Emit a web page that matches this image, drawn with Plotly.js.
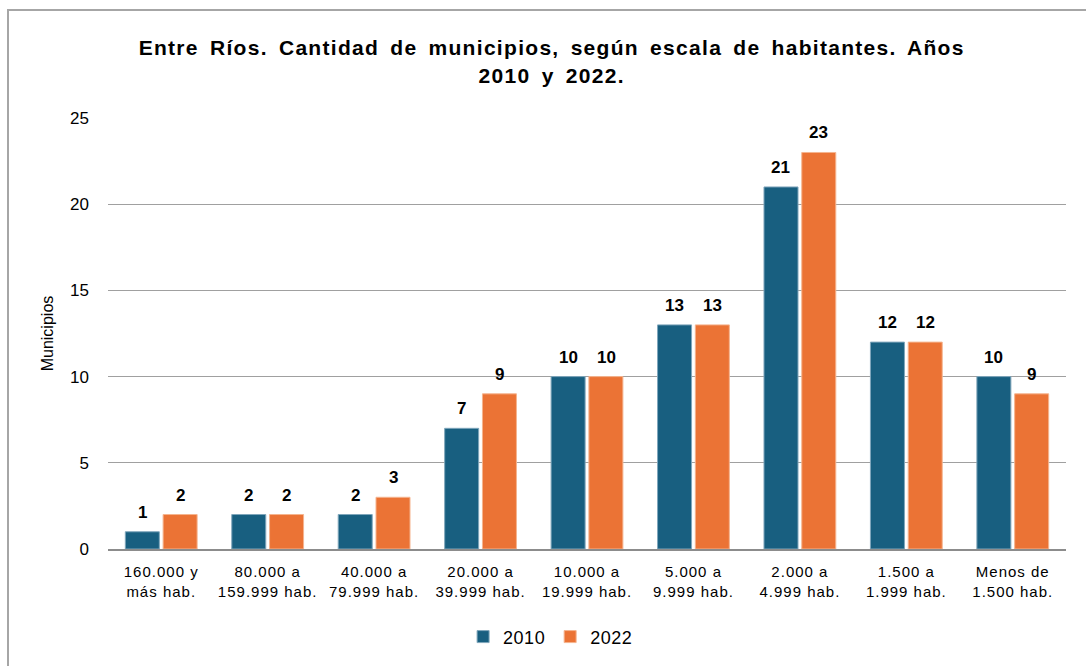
<!DOCTYPE html>
<html>
<head>
<meta charset="utf-8">
<script src="https://cdn.plot.ly/plotly-3.0.1.min.js"></script>
<style>
  html, body { margin: 0; padding: 0; background: #fff; overflow: hidden; }
  #chart { position: absolute; left: 0; top: 0; width: 1086px; height: 666px; }
  #frame { position: absolute; left: 7px; top: 9px; width: 1200px; height: 800px;
           border-left: 2px solid #a6a6a6; border-top: 2px solid #a6a6a6; pointer-events: none; }
  .gtitle { letter-spacing: 1.3px; word-spacing: 4px; }
  .xtick text { letter-spacing: 1px; }
  .legendtext { letter-spacing: 0.5px; }
</style>
</head>
<body>
<div id="chart"></div>
<div id="frame"></div>
<script>
const categories = [
  "160.000 y<br>más hab.",
  "80.000 a<br>159.999 hab.",
  "40.000 a<br>79.999 hab.",
  "20.000 a<br>39.999 hab.",
  "10.000 a<br>19.999 hab.",
  "5.000 a<br>9.999 hab.",
  "2.000 a<br>4.999 hab.",
  "1.500 a<br>1.999 hab.",
  "Menos de<br>1.500 hab."
];
const values2010 = [1, 2, 2, 7, 10, 13, 21, 12, 10];
const values2022 = [2, 2, 3, 9, 10, 13, 23, 12, 9];
const seriesNames = ["2010", "2022"];
const yTicks = [0, 5, 10, 15, 20, 25];

const blue = "#185f80";
const orange = "#eb7335";

const traces = [
  { type: "bar", name: seriesNames[0], x: categories, y: values2010,
    marker: { color: blue, line: { color: "#7fa6bb", width: 1 } }, hoverinfo: "skip" },
  { type: "bar", name: seriesNames[1], x: categories, y: values2022,
    marker: { color: orange, line: { color: "#f5b48f", width: 1 } }, hoverinfo: "skip" }
];

const annotations = [];
[values2010, values2022].forEach((vals, s) => {
  vals.forEach((v, i) => {
    annotations.push({
      x: categories[i], y: v, xref: "x", yref: "y",
      text: "<b>" + v + "</b>", showarrow: false,
      xshift: s === 0 ? -19 : 19, yanchor: "bottom", yshift: 8,
      font: { family: "Liberation Sans, Arial, sans-serif", size: 17, color: "#000" }
    });
  });
});

const layout = {
  width: 1086, height: 666,
  margin: { l: 108, r: 20, t: 118, b: 117, autoexpand: false },
  paper_bgcolor: "#fff", plot_bgcolor: "#fff",
  font: { family: "Liberation Sans, Arial, sans-serif", color: "#000" },
  title: {
    text: "<b>Entre Ríos. Cantidad de municipios, según escala de habitantes. Años<br>2010 y 2022.</b>",
    font: { family: "Liberation Sans, Arial, sans-serif", size: 21, color: "#000" },
    x: 0.508, xanchor: "center", y: 0.917, yanchor: "top"
  },
  barmode: "group",
  bargap: 0.29,
  bargroupgap: 0.1,
  showlegend: true,
  legend: {
    orientation: "h", x: 0.462, xanchor: "center", y: -0.161, yanchor: "top",
    font: { size: 18, color: "#000" }, itemwidth: 30, traceorder: "normal"
  },
  xaxis: {
    type: "category",
    tickfont: { size: 15, color: "#000" },
    showgrid: false, zeroline: false,
    showline: true, linecolor: "#8c8c8c", linewidth: 2,
    ticks: "", ticklabelstandoff: 8
  },
  yaxis: {
    range: [0, 25], tickvals: yTicks, ticktext: yTicks.map(String),
    tickfont: { size: 17, color: "#000" },
    showgrid: true, gridcolor: "#a0a0a0", gridwidth: 1,
    zeroline: false, showline: false, ticks: "",
    ticklabelstandoff: 18,
    title: { text: "Municipios", font: { size: 16, color: "#000" }, standoff: 12 }
  },
  annotations: annotations
};

Plotly.newPlot("chart", traces, layout, { displayModeBar: false, staticPlot: true });
</script>
</body>
</html>
